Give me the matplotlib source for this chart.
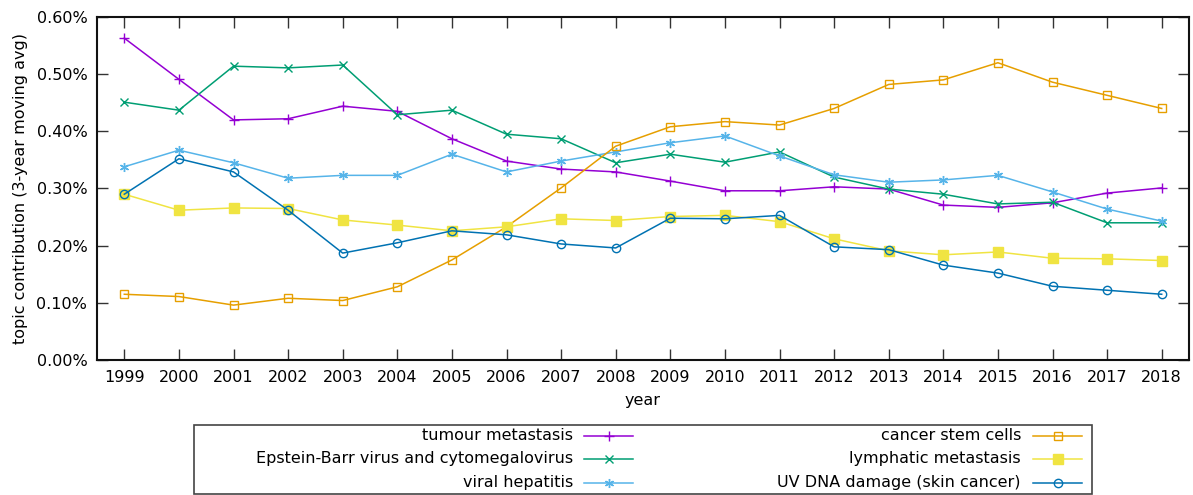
import matplotlib
matplotlib.use("Agg")
import matplotlib.pyplot as plt
from matplotlib.lines import Line2D
from matplotlib.patches import Rectangle
from matplotlib.ticker import FuncFormatter

years = list(range(1999, 2019))

tumour_metastasis = [0.563, 0.491, 0.420, 0.422, 0.444, 0.435, 0.387, 0.348, 0.334, 0.329,
                     0.313, 0.296, 0.296, 0.303, 0.299, 0.271, 0.267, 0.275, 0.292, 0.301]
epstein_barr = [0.451, 0.437, 0.514, 0.511, 0.516, 0.429, 0.437, 0.395, 0.387, 0.345,
                0.360, 0.346, 0.364, 0.320, 0.299, 0.290, 0.273, 0.276, 0.240, 0.240]
viral_hepatitis = [0.338, 0.367, 0.345, 0.318, 0.323, 0.323, 0.360, 0.329, 0.348, 0.364,
                   0.380, 0.392, 0.357, 0.324, 0.311, 0.315, 0.323, 0.294, 0.264, 0.243]
cancer_stem_cells = [0.115, 0.111, 0.096, 0.108, 0.104, 0.128, 0.175, 0.233, 0.301, 0.374,
                     0.408, 0.417, 0.411, 0.440, 0.482, 0.490, 0.520, 0.486, 0.463, 0.440]
lymphatic_metastasis = [0.290, 0.262, 0.266, 0.265, 0.245, 0.236, 0.226, 0.233, 0.247, 0.244,
                        0.251, 0.253, 0.242, 0.212, 0.191, 0.184, 0.189, 0.178, 0.177, 0.174]
uv_dna_damage = [0.290, 0.352, 0.329, 0.262, 0.187, 0.205, 0.226, 0.219, 0.203, 0.196,
                 0.248, 0.247, 0.253, 0.198, 0.193, 0.166, 0.152, 0.129, 0.122, 0.115]

# (label, values, color, marker, filled, size)
series = [
    ("tumour metastasis", tumour_metastasis, "#9400d3", "+", True, 6.5),
    ("Epstein-Barr virus and cytomegalovirus", epstein_barr, "#009e73", "x", True, 6),
    ("viral hepatitis", viral_hepatitis, "#56b4e9", (6, 2, 0), True, 6.5),
    ("cancer stem cells", cancer_stem_cells, "#e69f00", "s", False, 6),
    ("lymphatic metastasis", lymphatic_metastasis, "#f0e442", "s", True, 6.5),
    ("UV DNA damage (skin cancer)", uv_dna_damage, "#0072b2", "o", False, 6),
]

plt.rcParams["font.family"] = ["DejaVu Sans"]
plt.rcParams["font.size"] = 11

fig = plt.figure(figsize=(11.93, 4.95), dpi=100)
W, H = 1193, 495
ax = fig.add_axes([97 / W, 1 - 360 / H, (1189 - 97) / W, (360 - 17) / H])

for label, vals, color, marker, filled, ms in series:
    ax.plot(years, vals, color=color, lw=1.1, marker=marker, ms=ms, mew=1.0,
            mfc=color if filled else "none", mec=color)

ax.set_xlim(1998.5, 2018.5)
ax.set_ylim(0, 0.6)
ax.set_xticks(years)
ax.set_yticks([0, 0.1, 0.2, 0.3, 0.4, 0.5, 0.6])
ax.yaxis.set_major_formatter(FuncFormatter(lambda v, p: "%.2f%%" % v))
ax.tick_params(direction="in", length=8, width=1, top=True, right=True,
               labelsize=11.5, pad=7, color="#333333")
for s in ax.spines.values():
    s.set_linewidth(1.5)
    s.set_color("#111111")
ax.set_xlabel("year", fontsize=11.5, labelpad=6)
ax.set_ylabel("topic contribution (3-year moving avg)", fontsize=11.5, labelpad=6)

# legend box drawn like gnuplot's: text right aligned, sample after it
fig.patches.append(Rectangle((194 / W, 1 - 494 / H), (1092 - 194) / W, (494 - 425) / H,
                             transform=fig.transFigure, fill=False,
                             edgecolor="#444444", lw=1.2))
rows = [436, 459, 483]
cols = [(573, 584, 633), (1021, 1033, 1082)]
for i, (label, vals, color, marker, filled, ms) in enumerate(series):
    col = cols[i // 3]
    y = 1 - rows[i % 3] / H
    fig.text(col[0] / W, y, label, ha="right", va="center", fontsize=11.5)
    fig.lines.append(Line2D([col[1] / W, col[2] / W], [y, y], transform=fig.transFigure,
                            color=color, lw=1.1))
    fig.lines.append(Line2D([(col[1] + col[2]) / 2 / W], [y], transform=fig.transFigure,
                            color=color, marker=marker, ms=ms, mew=1.0,
                            mfc=color if filled else "none", mec=color))

fig.savefig("out.png", dpi=100)
